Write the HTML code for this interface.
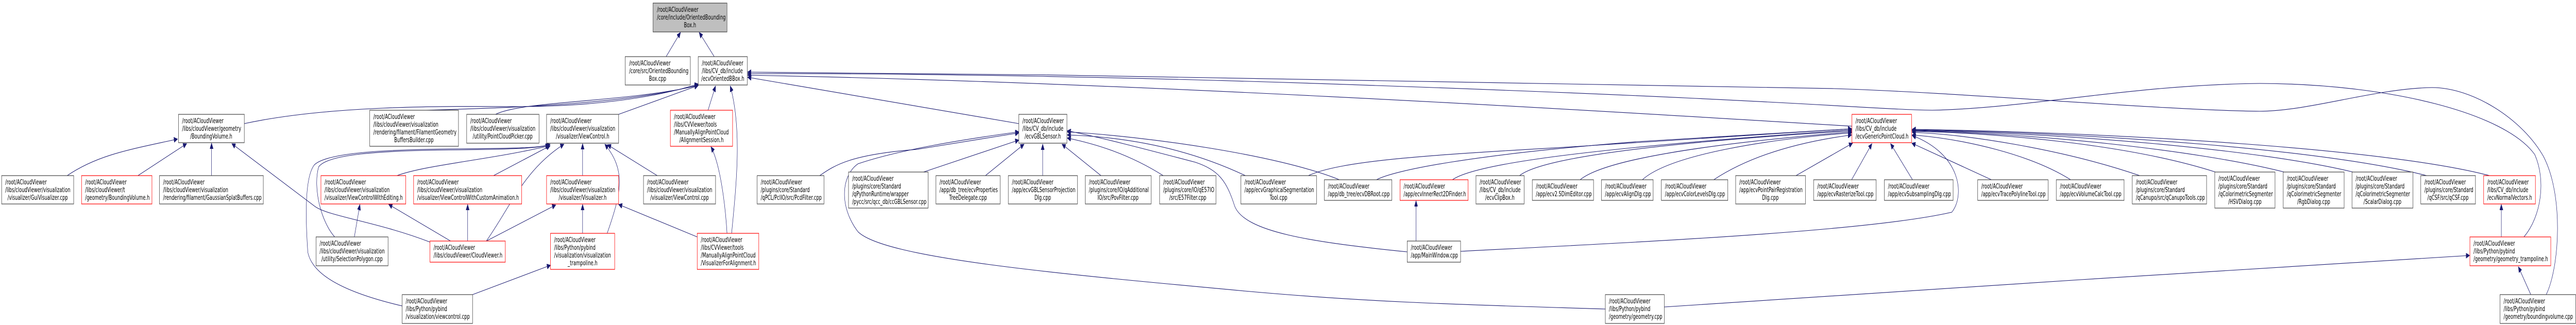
<!DOCTYPE html>
<html><head><meta charset="utf-8"><style>
html,body{margin:0;padding:0;background:#fff;width:100%;height:100%;overflow:hidden;}
svg{display:block;width:100vw;height:100vh;}
text{font-family:"DejaVu Sans","Liberation Sans",sans-serif;font-size:13.2px;fill:#000;}
.e{fill:none;stroke:#191970;stroke-width:1.1;}
</style></head><body>
<svg xmlns="http://www.w3.org/2000/svg" viewBox="0 0 7866 631" preserveAspectRatio="none">
<defs>
<marker id="a" markerUnits="userSpaceOnUse" markerWidth="12" markerHeight="10" refX="11" refY="5" orient="auto">
<path d="M0,0 L11,5 L0,10 Z" fill="#191970" stroke="#191970"/>
</marker>
</defs>
<g id="edges">
<path class="e" marker-end="url(#a)" d="M2034,110 L2078,63"/>
<path class="e" marker-end="url(#a)" d="M2181,110 L2135,63"/>
<path class="e" marker-end="url(#a)" d="M746,240 C1000,205 1350,206 1550,207 C1800,208 2000,190 2132,163"/>
<path class="e" marker-end="url(#a)" d="M1300,214 C1500,210 1900,205 2132,165"/>
<path class="e" marker-end="url(#a)" d="M1513,222 C1600,195 1900,200 2132,166"/>
<path class="e" marker-end="url(#a)" d="M1889,222 L2132,166"/>
<path class="e" marker-end="url(#a)" d="M2162,214 L2185,167"/>
<path class="e" marker-end="url(#a)" d="M2234,453 C2250,350 2265,250 2230,167"/>
<path class="e" marker-end="url(#a)" d="M3111,240 L2283,150"/>
<path class="e" marker-end="url(#a)" d="M5655,245 C5000,220 3500,160 2283,146"/>
<path class="e" marker-end="url(#a)" d="M7707,460 C7760,420 7775,350 7740,300 C7650,220 7300,163 6900,162 C6500,165 6200,210 5900,214 C5700,212 5500,195 4200,166 C3500,150 2800,142 2283,143"/>
<path class="e" marker-end="url(#a)" d="M7775,572 C7815,520 7830,380 7766,303 C7700,230 7550,170 7426,170 C7250,172 7050,216 6900,216 C6600,214 6000,180 5600,172 C5000,162 3500,145 2283,140"/>
<path class="e" marker-end="url(#a)" d="M205,341 C300,300 400,290 542,270"/>
<path class="e" marker-end="url(#a)" d="M421,341 L570,279"/>
<path class="e" marker-end="url(#a)" d="M646,341 L646,278"/>
<path class="e" marker-end="url(#a)" d="M1313,470 C1150,430 1000,420 960,400 L708,279"/>
<path class="e" marker-end="url(#a)" d="M1082,460 L1099,397"/>
<path class="e" marker-end="url(#a)" d="M1376,468 L1187,397"/>
<path class="e" marker-end="url(#a)" d="M1212,341 C1300,320 1500,310 1677,283"/>
<path class="e" marker-end="url(#a)" d="M1022,460 C980,430 955,365 973,324 C1000,300 1150,292 1400,291 C1550,290 1650,288 1677,281"/>
<path class="e" marker-end="url(#a)" d="M1228,594 C1000,560 950,520 940,490 C930,400 935,340 960,320 C1000,295 1200,290 1400,289 C1600,288 1650,287 1680,280"/>
<path class="e" marker-end="url(#a)" d="M1507,341 L1680,283"/>
<path class="e" marker-end="url(#a)" d="M1485,468 C1560,400 1600,330 1722,280"/>
<path class="e" marker-end="url(#a)" d="M1779,341 L1779,279"/>
<path class="e" marker-end="url(#a)" d="M1854,453 C1900,370 1910,330 1847,280"/>
<path class="e" marker-end="url(#a)" d="M2007,341 L1855,281"/>
<path class="e" marker-end="url(#a)" d="M1485,468 L1697,398"/>
<path class="e" marker-end="url(#a)" d="M1779,453 L1779,397"/>
<path class="e" marker-end="url(#a)" d="M2129,460 L1889,397"/>
<path class="e" marker-end="url(#a)" d="M1428,468 L1428,397"/>
<path class="e" marker-end="url(#a)" d="M1443,572 L1681,515"/>
<path class="e" marker-end="url(#a)" d="M2220,453 C2215,400 2200,320 2171,285"/>
<path class="e" marker-end="url(#a)" d="M2820,334 L3111,272"/>
<path class="e" marker-end="url(#a)" d="M2503,341 C2550,320 2600,300 2800,290 L3111,258"/>
<path class="e" marker-end="url(#a)" d="M4902,600 C4500,592 4200,588 3800,565 C3200,530 2700,500 2620,450 C2560,400 2570,340 2620,318 C2750,290 2950,270 3111,256"/>
<path class="e" marker-end="url(#a)" d="M3009,341 L3127,280"/>
<path class="e" marker-end="url(#a)" d="M3184,341 L3184,280"/>
<path class="e" marker-end="url(#a)" d="M3362,341 L3243,280"/>
<path class="e" marker-end="url(#a)" d="M3552,341 C3450,300 3350,280 3259,268"/>
<path class="e" marker-end="url(#a)" d="M3803,341 C3600,280 3400,265 3259,262"/>
<path class="e" marker-end="url(#a)" d="M4090,349 C3900,300 3500,265 3259,256"/>
<path class="e" marker-end="url(#a)" d="M4297,489 C4000,470 3800,450 3770,400 C3745,350 3720,330 3650,315 C3500,290 3350,265 3259,254"/>
<path class="e" marker-end="url(#a)" d="M3995,341 C4100,310 4400,300 4800,285 C5200,270 5500,255 5654,250"/>
<path class="e" marker-end="url(#a)" d="M4203,349 C4260,330 4500,300 5000,275 C5400,260 5550,252 5654,250"/>
<path class="e" marker-end="url(#a)" d="M4435,349 C4500,320 4800,290 5654,252"/>
<path class="e" marker-end="url(#a)" d="M4640,341 C4700,310 5000,280 5654,254"/>
<path class="e" marker-end="url(#a)" d="M4825,349 C4900,310 5200,280 5654,256"/>
<path class="e" marker-end="url(#a)" d="M5015,349 C5100,300 5400,270 5654,258"/>
<path class="e" marker-end="url(#a)" d="M5233,349 C5350,300 5500,275 5654,262"/>
<path class="e" marker-end="url(#a)" d="M5484,341 L5657,278"/>
<path class="e" marker-end="url(#a)" d="M5654,349 L5716,279"/>
<path class="e" marker-end="url(#a)" d="M5840,349 L5773,279"/>
<path class="e" marker-end="url(#a)" d="M6081,349 L5838,278"/>
<path class="e" marker-end="url(#a)" d="M6323,349 C6200,300 6000,270 5839,262"/>
<path class="e" marker-end="url(#a)" d="M6534,341 C6300,290 6000,260 5839,257"/>
<path class="e" marker-end="url(#a)" d="M6765,334 C6500,280 6100,258 5839,255"/>
<path class="e" marker-end="url(#a)" d="M6975,334 C6700,290 6200,258 5839,254"/>
<path class="e" marker-end="url(#a)" d="M7185,334 C6900,290 6300,258 5839,253"/>
<path class="e" marker-end="url(#a)" d="M7410,341 C7100,290 6400,258 5839,252"/>
<path class="e" marker-end="url(#a)" d="M7602,341 C7300,290 6500,258 5839,251"/>
<path class="e" marker-end="url(#a)" d="M4460,488 C5000,470 5700,450 5960,412 C6000,380 5990,300 5839,263"/>
<path class="e" marker-end="url(#a)" d="M7638,460 L7638,397"/>
<path class="e" marker-end="url(#a)" d="M7728,572 L7690,518"/>
<path class="e" marker-end="url(#a)" d="M5082,596 C5800,570 6800,520 7541,496"/>
<path class="e" marker-end="url(#a)" d="M4324,468 L4324,390"/>
</g>
<g id="nodes" stroke-width="1.2">
<rect x="1994" y="6" width="226" height="56" fill="#bfbfbf" stroke="#404040"/>
<text x="2006" y="23">/root/ACloudViewer</text><text x="2006" y="38">/core/include/OrientedBounding</text><text x="2107" y="53" text-anchor="middle">Box.h</text>

<rect x="1909" y="110" width="199" height="55" fill="#fff" stroke="#404040"/>
<text x="1921" y="127">/root/ACloudViewer</text><text x="1921" y="142">/core/src/OrientedBounding</text><text x="2008" y="157" text-anchor="middle">Box.cpp</text>

<rect x="2132" y="110" width="150" height="55" fill="#fff" stroke="#404040"/>
<text x="2143" y="127">/root/ACloudViewer</text><text x="2143" y="142">/libs/CV_db/include</text><text x="2207" y="157" text-anchor="middle">/ecvOrientedBBox.h</text>

<rect x="545" y="222" width="201" height="55" fill="#fff" stroke="#404040"/>
<text x="556" y="239">/root/ACloudViewer</text><text x="556" y="254">/libs/cloudViewer/geometry</text><text x="645" y="269" text-anchor="middle">/BoundingVolume.h</text>

<rect x="1129" y="214" width="271" height="70" fill="#fff" stroke="#404040"/>
<text x="1140" y="231">/root/ACloudViewer</text><text x="1140" y="246">/libs/cloudViewer/visualization</text><text x="1140" y="261">/rendering/filament/FilamentGeometry</text><text x="1264" y="276" text-anchor="middle">BuffersBuilder.cpp</text>

<rect x="1425" y="222" width="221" height="56" fill="#fff" stroke="#404040"/>
<text x="1436" y="239">/root/ACloudViewer</text><text x="1436" y="254">/libs/cloudViewer/visualization</text><text x="1535" y="269" text-anchor="middle">/utility/PointCloudPicker.cpp</text>

<rect x="1669" y="222" width="220" height="56" fill="#fff" stroke="#404040"/>
<text x="1680" y="239">/root/ACloudViewer</text><text x="1680" y="254">/libs/cloudViewer/visualization</text><text x="1779" y="269" text-anchor="middle">/visualizer/ViewControl.h</text>

<rect x="2047" y="214" width="190" height="70" fill="#fff" stroke="#ff0000"/>
<text x="2058" y="231">/root/ACloudViewer</text><text x="2058" y="246">/libs/CVViewer/tools</text><text x="2058" y="261">/ManuallyAlignPointCloud</text><text x="2142" y="276" text-anchor="middle">/AlignmentSession.h</text>

<rect x="3111" y="222" width="147" height="56" fill="#fff" stroke="#404040"/>
<text x="3122" y="239">/root/ACloudViewer</text><text x="3122" y="254">/libs/CV_db/include</text><text x="3184" y="269" text-anchor="middle">/ecvGBLSensor.h</text>

<rect x="5655" y="222" width="182" height="55" fill="#fff" stroke="#ff0000"/>
<text x="5666" y="239">/root/ACloudViewer</text><text x="5666" y="254">/libs/CV_db/include</text><text x="5666" y="269">/ecvGenericPointCloud.h</text>

<rect x="5" y="341" width="220" height="55" fill="#fff" stroke="#404040"/>
<text x="16" y="358">/root/ACloudViewer</text><text x="16" y="373">/libs/cloudViewer/visualization</text><text x="115" y="388" text-anchor="middle">/visualizer/GuiVisualizer.cpp</text>

<rect x="249" y="341" width="215" height="55" fill="#fff" stroke="#ff0000"/>
<text x="260" y="358">/root/ACloudViewer</text><text x="260" y="373">/libs/cloudViewer/t</text><text x="260" y="388">/geometry/BoundingVolume.h</text>

<rect x="487" y="341" width="317" height="55" fill="#fff" stroke="#404040"/>
<text x="498" y="358">/root/ACloudViewer</text><text x="498" y="373">/libs/cloudViewer/visualization</text><text x="498" y="388">/rendering/filament/GaussianSplatBuffers.cpp</text>

<rect x="980" y="341" width="259" height="55" fill="#fff" stroke="#ff0000"/>
<text x="991" y="358">/root/ACloudViewer</text><text x="991" y="373">/libs/cloudViewer/visualization</text><text x="991" y="388">/visualizer/ViewControlWithEditing.h</text>

<rect x="1263" y="341" width="330" height="55" fill="#fff" stroke="#ff0000"/>
<text x="1274" y="358">/root/ACloudViewer</text><text x="1274" y="373">/libs/cloudViewer/visualization</text><text x="1274" y="388">/visualizer/ViewControlWithCustomAnimation.h</text>

<rect x="1669" y="341" width="220" height="55" fill="#fff" stroke="#ff0000"/>
<text x="1680" y="358">/root/ACloudViewer</text><text x="1680" y="373">/libs/cloudViewer/visualization</text><text x="1779" y="388" text-anchor="middle">/visualizer/Visualizer.h</text>

<rect x="1965" y="341" width="220" height="55" fill="#fff" stroke="#404040"/>
<text x="1976" y="358">/root/ACloudViewer</text><text x="1976" y="373">/libs/cloudViewer/visualization</text><text x="2075" y="388" text-anchor="middle">/visualizer/ViewControl.cpp</text>

<rect x="2312" y="341" width="204" height="55" fill="#fff" stroke="#404040"/>
<text x="2323" y="358">/root/ACloudViewer</text><text x="2323" y="373">/plugins/core/Standard</text><text x="2323" y="388">/qPCL/PclIO/src/PcdFilter.cpp</text>

<rect x="2591" y="334" width="243" height="70" fill="#fff" stroke="#404040"/>
<text x="2602" y="351">/root/ACloudViewer</text><text x="2602" y="366">/plugins/core/Standard</text><text x="2602" y="381">/qPythonRuntime/wrapper</text><text x="2602" y="396">/pycc/src/qcc_db/ccGBLSensor.cpp</text>

<rect x="2858" y="341" width="196" height="55" fill="#fff" stroke="#404040"/>
<text x="2869" y="358">/root/ACloudViewer</text><text x="2869" y="373">/app/db_tree/ecvProperties</text><text x="2956" y="388" text-anchor="middle">TreeDelegate.cpp</text>

<rect x="3079" y="341" width="211" height="55" fill="#fff" stroke="#404040"/>
<text x="3090" y="358">/root/ACloudViewer</text><text x="3090" y="373">/app/ecvGBLSensorProjection</text><text x="3184" y="388" text-anchor="middle">Dlg.cpp</text>

<rect x="3314" y="341" width="201" height="55" fill="#fff" stroke="#404040"/>
<text x="3325" y="358">/root/ACloudViewer</text><text x="3325" y="373">/plugins/core/IO/qAdditional</text><text x="3414" y="388" text-anchor="middle">IO/src/PovFilter.cpp</text>

<rect x="3541" y="341" width="172" height="55" fill="#fff" stroke="#404040"/>
<text x="3552" y="358">/root/ACloudViewer</text><text x="3552" y="373">/plugins/core/IO/qE57IO</text><text x="3627" y="388" text-anchor="middle">/src/E57Filter.cpp</text>

<rect x="3789" y="341" width="231" height="55" fill="#fff" stroke="#404040"/>
<text x="3800" y="358">/root/ACloudViewer</text><text x="3800" y="373">/app/ecvGraphicalSegmentation</text><text x="3904" y="388" text-anchor="middle">Tool.cpp</text>

<rect x="4044" y="349" width="206" height="40" fill="#fff" stroke="#404040"/>
<text x="4055" y="366">/root/ACloudViewer</text><text x="4055" y="381">/app/db_tree/ecvDBRoot.cpp</text>

<rect x="4275" y="349" width="208" height="40" fill="#fff" stroke="#ff0000"/>
<text x="4286" y="366">/root/ACloudViewer</text><text x="4286" y="381">/app/ecvInnerRect2DFinder.h</text>

<rect x="4507" y="341" width="147" height="55" fill="#fff" stroke="#404040"/>
<text x="4518" y="358">/root/ACloudViewer</text><text x="4518" y="373">/libs/CV_db/include</text><text x="4580" y="388" text-anchor="middle">/ecvClipBox.h</text>

<rect x="4679" y="349" width="187" height="40" fill="#fff" stroke="#404040"/>
<text x="4690" y="366">/root/ACloudViewer</text><text x="4690" y="381">/app/ecv2.5DimEditor.cpp</text>

<rect x="4890" y="349" width="158" height="40" fill="#fff" stroke="#404040"/>
<text x="4901" y="366">/root/ACloudViewer</text><text x="4901" y="381">/app/ecvAlignDlg.cpp</text>

<rect x="5073" y="349" width="203" height="40" fill="#fff" stroke="#404040"/>
<text x="5084" y="366">/root/ACloudViewer</text><text x="5084" y="381">/app/ecvColorLevelsDlg.cpp</text>

<rect x="5300" y="341" width="213" height="55" fill="#fff" stroke="#404040"/>
<text x="5311" y="358">/root/ACloudViewer</text><text x="5311" y="373">/app/ecvPointPairRegistration</text><text x="5406" y="388" text-anchor="middle">Dlg.cpp</text>

<rect x="5538" y="349" width="191" height="40" fill="#fff" stroke="#404040"/>
<text x="5549" y="366">/root/ACloudViewer</text><text x="5549" y="381">/app/ecvRasterizeTool.cpp</text>

<rect x="5754" y="349" width="210" height="40" fill="#fff" stroke="#404040"/>
<text x="5765" y="366">/root/ACloudViewer</text><text x="5765" y="381">/app/ecvSubsamplingDlg.cpp</text>

<rect x="6039" y="349" width="215" height="40" fill="#fff" stroke="#404040"/>
<text x="6050" y="366">/root/ACloudViewer</text><text x="6050" y="381">/app/ecvTracePolylineTool.cpp</text>

<rect x="6279" y="349" width="207" height="40" fill="#fff" stroke="#404040"/>
<text x="6290" y="366">/root/ACloudViewer</text><text x="6290" y="381">/app/ecvVolumeCalcTool.cpp</text>

<rect x="6511" y="341" width="227" height="55" fill="#fff" stroke="#404040"/>
<text x="6522" y="358">/root/ACloudViewer</text><text x="6522" y="373">/plugins/core/Standard</text><text x="6522" y="388">/qCanupo/src/qCanupoTools.cpp</text>

<rect x="6763" y="334" width="184" height="70" fill="#fff" stroke="#404040"/>
<text x="6774" y="351">/root/ACloudViewer</text><text x="6774" y="366">/plugins/core/Standard</text><text x="6774" y="381">/qColorimetricSegmenter</text><text x="6855" y="396" text-anchor="middle">/HSVDialog.cpp</text>

<rect x="6972" y="334" width="186" height="70" fill="#fff" stroke="#404040"/>
<text x="6983" y="351">/root/ACloudViewer</text><text x="6983" y="366">/plugins/core/Standard</text><text x="6983" y="381">/qColorimetricSegmenter</text><text x="7065" y="396" text-anchor="middle">/RgbDialog.cpp</text>

<rect x="7182" y="334" width="186" height="70" fill="#fff" stroke="#404040"/>
<text x="7193" y="351">/root/ACloudViewer</text><text x="7193" y="366">/plugins/core/Standard</text><text x="7193" y="381">/qColorimetricSegmenter</text><text x="7275" y="396" text-anchor="middle">/ScalarDialog.cpp</text>

<rect x="7392" y="341" width="167" height="55" fill="#fff" stroke="#404040"/>
<text x="7403" y="358">/root/ACloudViewer</text><text x="7403" y="373">/plugins/core/Standard</text><text x="7475" y="388" text-anchor="middle">/qCSF/src/qCSF.cpp</text>

<rect x="7584" y="341" width="158" height="55" fill="#fff" stroke="#ff0000"/>
<text x="7595" y="358">/root/ACloudViewer</text><text x="7595" y="373">/libs/CV_db/include</text><text x="7595" y="388">/ecvNormalVectors.h</text>

<rect x="965" y="460" width="220" height="56" fill="#fff" stroke="#404040"/>
<text x="976" y="477">/root/ACloudViewer</text><text x="976" y="492">/libs/cloudViewer/visualization</text><text x="1075" y="507" text-anchor="middle">/utility/SelectionPolygon.cpp</text>

<rect x="1313" y="468" width="230" height="41" fill="#fff" stroke="#ff0000"/>
<text x="1324" y="485">/root/ACloudViewer</text><text x="1324" y="500">/libs/cloudViewer/CloudViewer.h</text>

<rect x="1681" y="453" width="196" height="70" fill="#fff" stroke="#ff0000"/>
<text x="1692" y="470">/root/ACloudViewer</text><text x="1692" y="485">/libs/Python/pybind</text><text x="1692" y="500">/visualization/visualization</text><text x="1779" y="515" text-anchor="middle">_trampoline.h</text>

<rect x="2129" y="453" width="188" height="70" fill="#fff" stroke="#ff0000"/>
<text x="2140" y="470">/root/ACloudViewer</text><text x="2140" y="485">/libs/CVViewer/tools</text><text x="2140" y="500">/ManuallyAlignPointCloud</text><text x="2140" y="515">/VisualizerForAlignment.h</text>

<rect x="4297" y="468" width="163" height="41" fill="#fff" stroke="#404040"/>
<text x="4308" y="485">/root/ACloudViewer</text><text x="4308" y="500">/app/MainWindow.cpp</text>

<rect x="7542" y="460" width="247" height="56" fill="#fff" stroke="#ff0000"/>
<text x="7553" y="477">/root/ACloudViewer</text><text x="7553" y="492">/libs/Python/pybind</text><text x="7553" y="507">/geometry/geometry_trampoline.h</text>

<rect x="1228" y="572" width="215" height="56" fill="#fff" stroke="#404040"/>
<text x="1239" y="589">/root/ACloudViewer</text><text x="1239" y="604">/libs/Python/pybind</text><text x="1239" y="619">/visualization/viewcontrol.cpp</text>

<rect x="4902" y="572" width="180" height="56" fill="#fff" stroke="#404040"/>
<text x="4913" y="589">/root/ACloudViewer</text><text x="4913" y="604">/libs/Python/pybind</text><text x="4913" y="619">/geometry/geometry.cpp</text>

<rect x="7634" y="572" width="231" height="56" fill="#fff" stroke="#404040"/>
<text x="7645" y="589">/root/ACloudViewer</text><text x="7645" y="604">/libs/Python/pybind</text><text x="7645" y="619">/geometry/boundingvolume.cpp</text>
</g>
</svg>
</body></html>
